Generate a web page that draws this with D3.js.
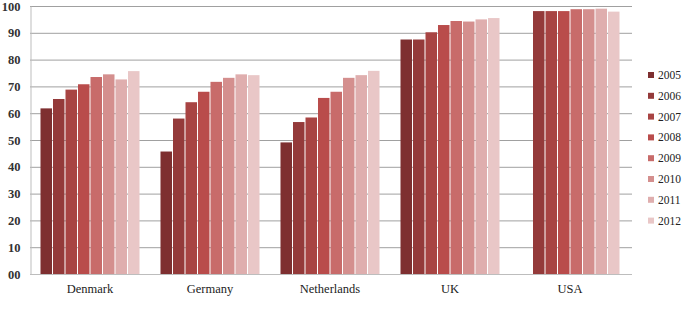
<!DOCTYPE html>
<html>
<head>
<meta charset="utf-8">
<script src="https://cdn.jsdelivr.net/npm/d3@7"></script>
<style>
  body { margin: 0; background: #fff; }
</style>
</head>
<body>
<svg id="chart" width="685" height="322"></svg>
<script>
// DATA
const countries = ["Denmark", "Germany", "Netherlands", "UK", "USA"];
const years = ["2005", "2006", "2007", "2008", "2009", "2010", "2011", "2012"];
const colors = ["#7e2f30", "#943a3a", "#a84443", "#b94c4b", "#c86b6a", "#d48f8e", "#dfaeae", "#e9c7c7"];
const yTicks = [0, 10, 20, 30, 40, 50, 60, 70, 80, 90, 100];

// one array per country, values in year order (USA has no 2005 value)
const denmark     = [61.8, 65.3, 68.8, 70.8, 73.5, 74.5, 72.6, 75.7];
const germany     = [45.7, 58.0, 64.1, 68.0, 71.7, 73.2, 74.5, 74.2];
const netherlands = [49.1, 56.7, 58.4, 65.7, 68.0, 73.2, 74.2, 75.8];
const uk          = [87.5, 87.5, 90.2, 92.9, 94.4, 94.2, 95.0, 95.5];
const usa         = [null, 98.1, 98.1, 98.1, 98.8, 98.8, 99.0, 97.9];
const values = [denmark, germany, netherlands, uk, usa];

const font = "'Liberation Serif', 'DejaVu Serif', serif";

// SETUP
const margin = { top: 6, left: 30, right: 55, bottom: 48 };

const svg = d3.select("#chart")
  .append("g")
  .attr("transform", `translate(${margin.left},${margin.top})`);

// SCALES
const x0 = d3.scaleBand()
  .domain(countries)
  .range([0, 600])
  .paddingInner(0.1667)
  .paddingOuter(0.0833);

const x1 = d3.scaleBand()
  .domain(years)
  .range([0, x0.bandwidth()]);

const y = d3.scaleLinear()
  .domain([0, 100])
  .range([268, 0]);

const color = d3.scaleOrdinal().domain(years).range(colors);

// GRIDLINES
svg.append("g")
  .selectAll("line")
  .data(yTicks.filter(d => d > 0))
  .join("line")
  .attr("x1", 0)
  .attr("x2", 602)
  .attr("y1", d => y(d) + 0.5)
  .attr("y2", d => y(d) + 0.5)
  .attr("stroke", "#a0a0a0")
  .attr("stroke-width", 1);

// Y AXIS
const yAxis = svg.append("g")
  .attr("transform", "translate(0.5,0)")
  .call(d3.axisLeft(y)
    .tickValues(yTicks)
    .tickSize(0)
    .tickPadding(10)
    .tickFormat(d => d === 0 ? "00" : d))
  .attr("font-family", font)
  .attr("font-size", 12.5);
yAxis.select(".domain").attr("stroke", "#bdbdbd");
yAxis.selectAll("text")
  .attr("font-weight", "bold")
  .attr("fill", "#333");

// BARS
const groups = svg.append("g")
  .selectAll("g")
  .data(countries)
  .join("g")
  .attr("transform", d => `translate(${x0(d)},0)`);

groups.selectAll("rect")
  .data((c, i) => years.map((yr, j) => ({ year: yr, value: values[i][j] }))
    .filter(d => d.value != null))
  .join("rect")
  .attr("x", d => x1(d.year) + 0.5)
  .attr("y", d => y(d.value))
  .attr("width", x1.bandwidth() - 1)
  .attr("height", d => y(0) - y(d.value))
  .attr("fill", d => color(d.year));

// X AXIS
const xAxis = svg.append("g")
  .attr("transform", `translate(0,${y(0) + 0.5})`)
  .call(d3.axisBottom(x0).tickSize(0).tickPadding(10))
  .attr("font-family", font)
  .attr("font-size", 12.5);
xAxis.select(".domain")
  .attr("d", "M0,0H602")
  .attr("stroke", "#bdbdbd");
xAxis.selectAll("text").attr("fill", "#222");

// LEGEND
const legend = svg.append("g")
  .attr("transform", "translate(618,69)")
  .attr("font-family", font)
  .attr("font-size", 11.5)
  .selectAll("g")
  .data(years)
  .join("g")
  .attr("transform", (d, i) => `translate(0,${i * 20.8})`);

legend.append("rect")
  .attr("x", 0)
  .attr("y", -3)
  .attr("width", 6)
  .attr("height", 6)
  .attr("fill", d => color(d));

legend.append("text")
  .attr("x", 10)
  .attr("y", 4)
  .attr("fill", "#222")
  .text(d => d);
</script>
</body>
</html>
